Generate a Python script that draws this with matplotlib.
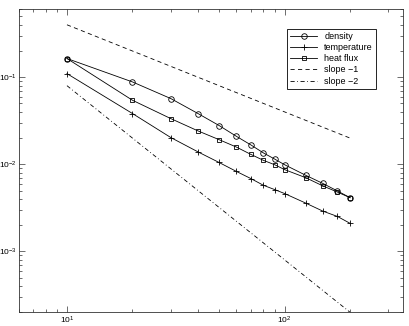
import numpy as np
import matplotlib
matplotlib.use("Agg")
import matplotlib.pyplot as plt
from matplotlib.ticker import LogLocator, NullFormatter

plt.rcParams['font.family'] = ['Liberation Sans', 'DejaVu Sans']
plt.rcParams['mathtext.fontset'] = 'custom'
plt.rcParams['mathtext.rm'] = 'Liberation Sans'
plt.rcParams['mathtext.it'] = 'Liberation Sans:italic'
plt.rcParams['mathtext.bf'] = 'Liberation Sans:bold'

x = [10, 20, 30, 40, 50, 60, 70, 80, 90, 100, 125, 150, 175, 200]
density = [0.164, 0.0883, 0.0569, 0.0383, 0.0279, 0.021, 0.0167, 0.0135,
           0.0115, 0.0099, 0.00749, 0.00603, 0.00494, 0.00414]
temperature = [0.110, 0.0383, 0.0203, 0.0139, 0.0105, 0.0083, 0.00686,
               0.00574, 0.00513, 0.00462, 0.00359, 0.0029, 0.00252, 0.0021]
heat_flux = [0.164, 0.0544, 0.0335, 0.0242, 0.0192, 0.0158, 0.013, 0.0111,
             0.0099, 0.0087, 0.00703, 0.00565, 0.0048, 0.00414]
slope_x = [10, 200]
slope1 = [0.4, 0.02]
slope2 = [0.08, 0.0002]

fig = plt.figure(figsize=(4.09, 3.26), dpi=100)
ax = fig.add_axes([0.0457, 0.042, 0.9396, 0.929])

lw = 0.6
ax.loglog(x, density, '-o', color='black', lw=lw, ms=4, mfc='none', mew=0.6, label='density')
ax.loglog(x, temperature, '-+', color='black', lw=lw, ms=5, mew=0.6, label='temperature')
ax.loglog(x, heat_flux, '-s', color='black', lw=lw, ms=3.5, mfc='none', mew=0.6, label='heat flux')
ax.loglog(slope_x, slope1, '--', color='black', lw=lw, dashes=(5, 4), label='slope \u22121')
ax.loglog(slope_x, slope2, '-.', color='black', lw=lw, dashes=(5, 3, 1, 3), label='slope \u22122')

ax.set_xlim(6, 350)
ax.set_ylim(2e-4, 0.6)

ax.xaxis.set_major_locator(LogLocator(base=10, numticks=10))
ax.xaxis.set_minor_locator(LogLocator(base=10, subs=np.arange(2, 10), numticks=20))
ax.yaxis.set_major_locator(LogLocator(base=10, numticks=10))
ax.yaxis.set_minor_locator(LogLocator(base=10, subs=np.arange(2, 10), numticks=20))
ax.xaxis.set_minor_formatter(NullFormatter())
ax.yaxis.set_minor_formatter(NullFormatter())

ax.tick_params(which='both', direction='in', top=True, right=True, labelsize=6,
               color='#333333', width=0.5)
ax.tick_params(which='major', length=4, pad=1.5)
ax.tick_params(which='minor', length=2)
for s in ax.spines.values():
    s.set_linewidth(0.6)
    s.set_color('#333333')

leg = ax.legend(loc='upper right', bbox_to_anchor=(0.93, 0.937), fontsize=6.5,
                frameon=True, fancybox=False, edgecolor='black', framealpha=1,
                handlelength=3.0, handletextpad=0.8, borderpad=0.35, labelspacing=0.25,
                borderaxespad=0)
leg.get_frame().set_linewidth(0.6)

fig.savefig('out.png', dpi=100)
